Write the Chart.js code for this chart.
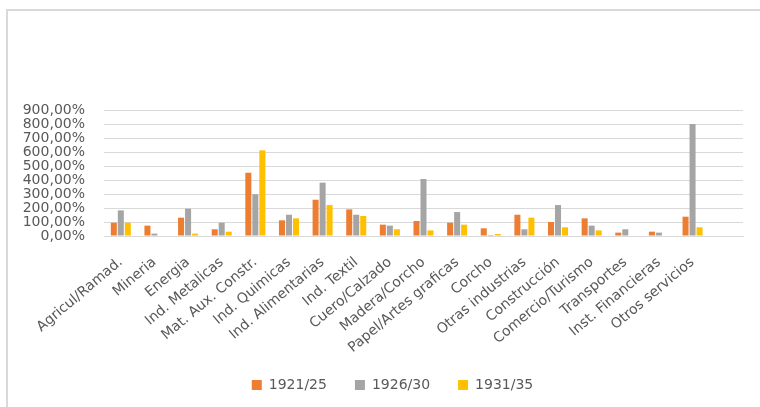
<!DOCTYPE html>
<html>
<head>
<meta charset="utf-8">
<script src="https://cdn.jsdelivr.net/npm/chart.js@4.4.1/dist/chart.umd.min.js"></script>
<style>
  html, body { margin: 0; padding: 0; background: #ffffff; overflow: hidden; }
  #wrap { position: absolute; left: 0; top: 0; width: 760px; height: 407px; }
</style>
</head>
<body>
<div id="wrap"><canvas id="c" width="760" height="407"></canvas></div>
<script>
const categories = ["Agricul/Ramad.", "Mineria", "Energia", "Ind. Metalicas", "Mat. Aux. Constr.",
  "Ind. Quimicas", "Ind. Alimentarias", "Ind. Textil", "Cuero/Calzado", "Madera/Corcho",
  "Papel/Artes graficas", "Corcho", "Otras industrias", "Construcción", "Comercio/Turismo",
  "Transportes", "Inst. Financieras", "Otros servicios", ""];
const s1921_25 = [95, 74, 131, 48, 452, 112, 259, 190, 81, 107, 95, 55, 152, 100, 126, 24, 31, 138, null];
const s1926_30 = [183, 17, 195, 95, 298, 152, 381, 152, 74, 407, 171, 7, 48, 221, 74, 48, 24, 800, null];
const s1931_35 = [95, 0, 17, 31, 612, 126, 221, 143, 48, 40, 81, 14, 131, 62, 40, 0, 0, 62, null];
const seriesNames = ["1921/25", "1926/30", "1931/35"];
const yTicks = [0, 100, 200, 300, 400, 500, 600, 700, 800, 900];

const colors = ["#ED7D31", "#A5A5A5", "#FFC000"];
const textColor = "#595959";
const fontFamily = "'DejaVu Sans', sans-serif";

const datasets = [s1921_25, s1926_30, s1931_35].map((d, i) => ({
  label: seriesNames[i],
  data: d,
  backgroundColor: colors[i],
  borderWidth: 0,
  categoryPercentage: 0.625,
  barPercentage: 0.86
}));

const framePlugin = {
  id: "frame",
  beforeDraw(chart) {
    const ctx = chart.ctx;
    ctx.save();
    ctx.fillStyle = "#ffffff";
    ctx.fillRect(0, 0, chart.width, chart.height);
    ctx.fillStyle = "#d9d9d9";
    ctx.fillRect(6, 9, chart.width - 6, 2);
    ctx.fillRect(6, 9, 2, chart.height - 9);
    ctx.restore();
  },
  afterLayout(chart) {
    const lg = chart.legend;
    if (lg) {
      lg.left += 21; lg.right += 21;
      lg.top -= 16; lg.bottom -= 16;
    }
  }
};

new Chart(document.getElementById("c"), {
  type: "bar",
  data: { labels: categories, datasets },
  plugins: [framePlugin],
  options: {
    responsive: false,
    devicePixelRatio: 1,
    animation: false,
    layout: { padding: { left: 0, right: 17, top: 110, bottom: -11 } },
    plugins: {
      legend: {
        position: "bottom",
        labels: {
          boxWidth: 10, boxHeight: 10, padding: 28,
          color: textColor,
          font: { family: fontFamily, size: 14 }
        }
      },
      tooltip: { enabled: false }
    },
    scales: {
      x: {
        grid: { display: false, drawTicks: false },
        border: { display: true, color: "#d9d9d9", width: 1 },
        ticks: {
          autoSkip: false, minRotation: 40, maxRotation: 40, padding: 18,
          color: textColor, font: { family: fontFamily, size: 14 }
        },
        afterFit: (s) => { s.height = 130; }
      },
      y: {
        min: 0, max: 900,
        afterBuildTicks: (s) => { s.ticks = yTicks.map(v => ({ value: v })); },
        grid: { color: "#d9d9d9", drawTicks: false },
        border: { display: false },
        ticks: {
          autoSkip: false,
          padding: 19,
          color: textColor, font: { family: fontFamily, size: 14 },
          callback: (v) => v.toFixed(2).replace(".", ",") + "%"
        },
        afterFit: (s) => { s.width = 104; }
      }
    }
  }
});
</script>
</body>
</html>
